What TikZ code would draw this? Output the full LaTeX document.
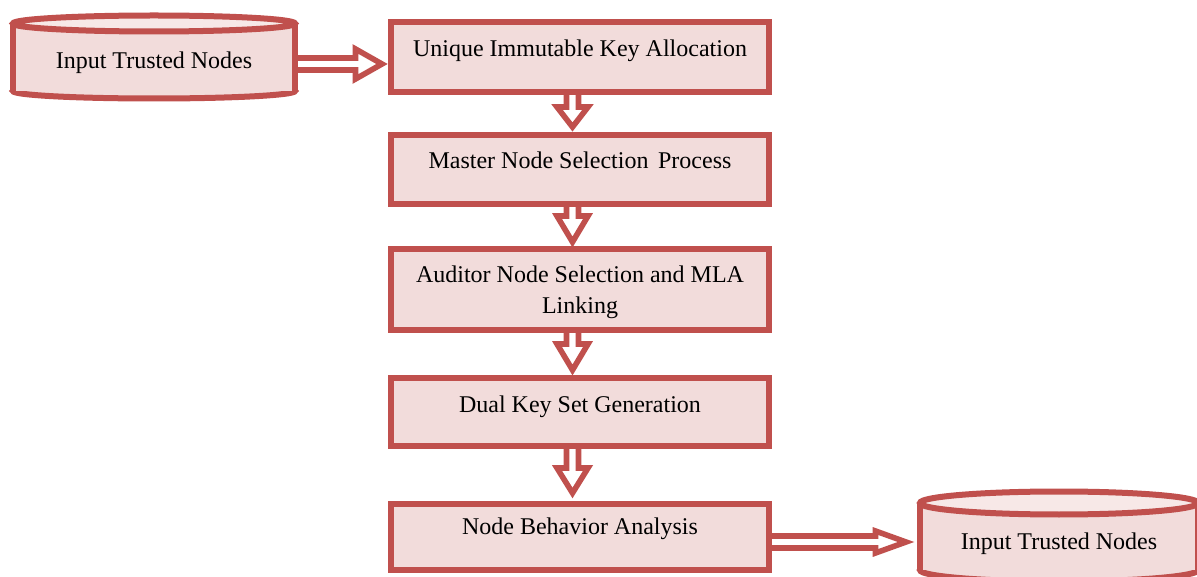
\documentclass[tikz,border=0pt]{standalone}
\usepackage{fontspec}
\setmainfont{Liberation Serif}
\usetikzlibrary{calc}
\definecolor{bred}{HTML}{C0504D}
\definecolor{bpink}{HTML}{F2DCDB}
\definecolor{btop}{HTML}{F7E8E7}
\tikzset{
  procbox/.style={rectangle, draw=bred, fill=bpink, line width=4.5pt, minimum width=283.5pt, inner sep=0pt, outer sep=0pt},
  lbl/.style={font=\fontsize{18}{23.25}\selectfont, align=center, inner sep=0pt},
  barrow/.style={draw=bred, fill=white, line width=4.2pt, line join=miter},
  cylfill/.style={fill=bpink},
  cylline/.style={draw=bred, line width=4.5pt},
  cyltop/.style={draw=bred, fill=btop, line width=4.5pt},
}
% vertical hollow block arrow: #1 start, #2 tip, #3 head half width, #4 head length
\newcommand\vblockarrow[4]{%
  \draw[barrow] ($(#1)+(-6,0)$) -- ($(#2)+(-6,-#4)$) -- ($(#2)+(-#3,-#4)$) -- (#2)
    -- ($(#2)+(#3,-#4)$) -- ($(#2)+(6,-#4)$) -- ($(#1)+(6,0)$) -- cycle;}
% horizontal hollow block arrow: #1 start, #2 tip, #3 head half width, #4 head length
\newcommand\hblockarrow[4]{%
  \draw[barrow] ($(#1)+(0,-6)$) -- ($(#2)+(-#4,-6)$) -- ($(#2)+(-#4,-#3)$) -- (#2)
    -- ($(#2)+(-#4,#3)$) -- ($(#2)+(-#4,6)$) -- ($(#1)+(0,6)$) -- cycle;}
\begin{document}
\begin{tikzpicture}[x=0.75pt, y=-0.75pt]
\useasboundingbox (0,0) rectangle (1197,577);
\clip (0,0) rectangle (1197,577);

% left cylinder
\fill[cylfill] (154,91) ellipse[x radius=141, y radius=7.5];
\draw[cylline] (154,91) ellipse[x radius=141, y radius=7.5];
\fill[cylfill] (13,23.5) rectangle (295,91);
\draw[cylline] (13,23.5) -- (13,91);
\draw[cylline] (295,23.5) -- (295,91);
\draw[cyltop] (154,23.5) ellipse[x radius=141, y radius=8];
\node[lbl, anchor=base] (cyl1) at (154,68.5) {Input Trusted Nodes};
\coordinate (cyl1r) at (295,64);

% right cylinder
\fill[cylfill] (1059,570) ellipse[x radius=139, y radius=11.5];
\draw[cylline] (1059,570) ellipse[x radius=139, y radius=11.5];
\fill[cylfill] (920,503) rectangle (1198,570);
\draw[cylline] (920,503) -- (920,570);
\draw[cylline] (1198,503) -- (1198,570);
\draw[cyltop] (1059,503) ellipse[x radius=139, y radius=11.5];
\node[lbl, anchor=base] (cyl2) at (1059,549.5) {Input Trusted Nodes};
\coordinate (cyl2l) at (906,542);

% process boxes
\node[procbox, minimum height=52.5pt] (b1) at (580,57) {};
\node[procbox, minimum height=51.75pt] (b2) at (580,169.5) {};
\node[procbox, minimum height=60.75pt] (b3) at (580,289.5) {};
\node[procbox, minimum height=51pt] (b4) at (580,412) {};
\node[procbox, minimum height=49.5pt] (b5) at (580,537) {};

\node[lbl, anchor=base] (t1) at (580,56.5) {Unique Immutable Key Allocation};
\node[lbl, anchor=base] (t2) at (580,169) {Master Node Selection\hspace{0.15em} Process};
\node[lbl] (t3) at (580,292) {Auditor Node Selection and MLA\\Linking};
\node[lbl, anchor=base] (t4) at (580,412.5) {Dual Key Set Generation};
\node[lbl, anchor=base] (t5) at (580,534.5) {Node Behavior Analysis};

% arrows
\coordinate (a1s) at ($(b1.south)+(-7.5,0)$);
\coordinate (a1t) at ($(b2.north)+(-7.5,-8)$);
\vblockarrow{a1s}{a1t}{15.5}{20}
\coordinate (a2s) at ($(b2.south)+(-7.5,0)$);
\coordinate (a2t) at ($(b3.north)+(-7.5,-7)$);
\vblockarrow{a2s}{a2t}{15.5}{26}
\coordinate (a3s) at ($(b3.south)+(-7.5,0)$);
\coordinate (a3t) at ($(b4.north)+(-7.5,-8)$);
\vblockarrow{a3s}{a3t}{15.5}{26}
\coordinate (a4s) at ($(b4.south)+(-7.5,0)$);
\coordinate (a4t) at ($(b5.north)+(-7.5,-11)$);
\vblockarrow{a4s}{a4t}{15.5}{25}

\coordinate (h1t) at ($(b1.west)+(-9,7)$);
\hblockarrow{cyl1r}{h1t}{15}{26.5}
\coordinate (h2s) at ($(b5.east)+(0,5)$);
\hblockarrow{h2s}{cyl2l}{11}{30.5}
\end{tikzpicture}
\end{document}
